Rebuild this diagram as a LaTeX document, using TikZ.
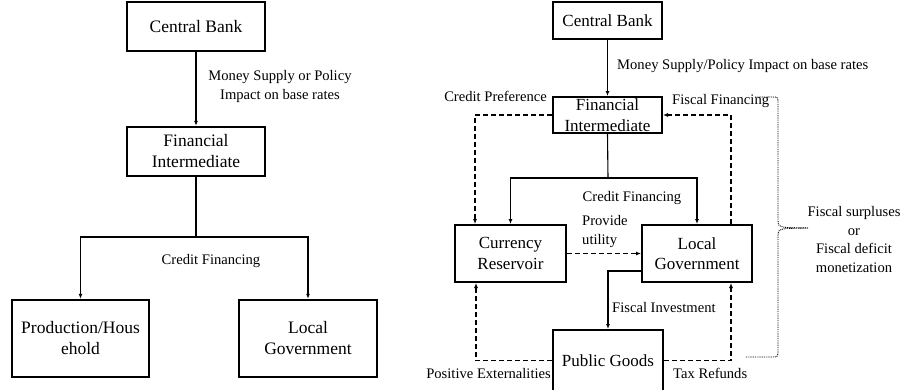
\documentclass[tikz,border=0pt]{standalone}
\usepackage{fontspec}
\setmainfont{Liberation Serif}
\usetikzlibrary{arrows.meta,calc}
\begin{document}
\begin{tikzpicture}[x=1pt,y=-1pt,
  boxL/.style={draw,line width=2.4pt,inner sep=0pt,align=center,font=\fontsize{17.5}{21}\selectfont},
  boxR/.style={draw,line width=2pt,inner sep=0pt,align=center,font=\fontsize{17}{20.5}\selectfont},
  boxtxt/.style={inner sep=0pt,align=center,font=\fontsize{17}{20.5}\selectfont},
  lbl/.style={inner sep=0pt,font=\fontsize{14.6}{19}\selectfont},
  conn/.style={line width=1.1pt,-{Latex[length=5pt,width=4pt]}},
  line/.style={line width=1.1pt},
  dconn/.style={line width=1.1pt,dash pattern=on 5pt off 3pt,-{Latex[length=5pt,width=4pt]}},
  brace/.style={line width=0.9pt,dash pattern=on 0.9pt off 0.9pt}
]
\useasboundingbox (0,0) rectangle (904,389);
% ---------- left diagram ----------
\node[boxL,minimum width=138pt,minimum height=49pt] (cb1) at (196,26.5) {Central Bank};
\node[boxL,minimum width=138pt,minimum height=49pt] (fi1) at (196,151.5) {Financial\\Intermediate};
\node[boxL,minimum width=137pt,minimum height=77pt] (ph) at (80.5,338.5) {Production/Hous\\ehold};
\node[boxL,minimum width=138pt,minimum height=77pt] (lg1) at (308,338.5) {Local\\Government};
\draw[conn] (cb1.south) -- (fi1.north);
\node[lbl,align=center] (l1) at (280,86.5) {Money Supply or Policy\\Impact on base rates};
\coordinate (s1) at (196,237);
\draw[line] (fi1.south) -- (s1);
\draw[conn] (s1) -| (ph.north);
\draw[conn] (s1) -| (lg1.north);
\node[lbl] (l2) at (211,261) {Credit Financing};
% ---------- right diagram ----------
\node[boxR,minimum width=109pt,minimum height=37pt] (cb2) at (607.5,20.5) {Central Bank};
\node[draw,line width=2pt,inner sep=0pt,minimum width=109pt,minimum height=36pt] (fi2) at (607.5,115) {};
\node[boxtxt] (fi2t) at (607.5,115) {Financial\\Intermediate};
\node[boxR,minimum width=111pt,minimum height=57pt] (cr) at (510.5,253.5) {Currency\\Reservoir};
\node[boxR,minimum width=110pt,minimum height=57pt] (lg2) at (697,253.5) {Local\\Government};
\node[boxR,minimum width=110pt,minimum height=61pt] (pg) at (608,360.5) {Public Goods};
\draw[conn] (cb2.south) -- (fi2.north);
\node[lbl,anchor=west] (l3) at (617,66) {Money Supply/Policy Impact on base rates};
\node[lbl,anchor=east] (l4) at (547,96) {Credit Preference};
\node[lbl,anchor=west] (l5) at (672,101) {Fiscal Financing};
\coordinate (s2) at (608,178);
\draw[line] (fi2.south) -- (s2);
\draw[conn] (s2) -| (cr.north);
\draw[conn] (s2) -| (lg2.north);
\node[lbl] (l6) at (632,198) {Credit Financing};
\draw[dconn] (fi2.west) -| ($(cr.north west)+(21,0)$);
\draw[dconn] ($(lg2.north east)+(-22,0)$) |- (fi2.east);
\draw[dconn] (cr.east) -- (lg2.west);
\node[lbl,anchor=west,align=left] (l7) at (582,232) {Provide\\utility};
\draw[conn] ($(lg2.west)+(0,17.5)$) -| (pg.north);
\node[lbl,anchor=west] (l8) at (612,307) {Fiscal Investment};
\draw[dconn] (pg.west) -| ($(cr.south west)+(22,0)$);
\draw[dconn] (pg.east) -| ($(lg2.south east)+(-22,0)$);
\node[lbl,anchor=east] (l9) at (551,373) {Positive Externalities};
\node[lbl,anchor=west] (l10) at (673,373) {Tax Refunds};
% brace
\coordinate (b1) at (755,97);
\coordinate (b2) at (745,357);
\coordinate (bt) at (808,228);
\draw[brace] (b1) -- (772,97) .. controls (778,97) .. (778,103) -- (778,218)
  .. controls (778,226) .. (786,227.5) -- (bt);
\draw[brace] (bt) -- (786,228.5) .. controls (778,230) .. (778,238) -- (778,350)
  .. controls (778,357) .. (771,357) -- (b2);
\node[lbl,align=center,font=\fontsize{14.6}{18.5}\selectfont] (l11) at (854,239.5) {Fiscal surpluses\\or\\Fiscal deficit\\monetization};
\end{tikzpicture}
\end{document}
